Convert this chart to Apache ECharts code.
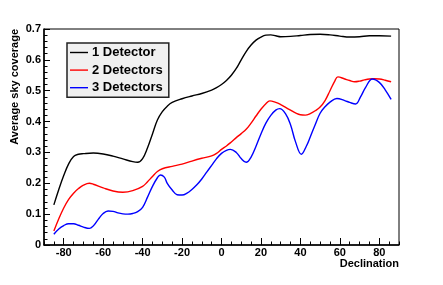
<!DOCTYPE html>
<html><head><meta charset="utf-8">
<script src="https://cdn.jsdelivr.net/npm/echarts@6/dist/echarts.min.js"></script>
<style>html,body{margin:0;padding:0;background:#fff;}#c{width:443px;height:285px;}</style>
</head><body><div id="c"></div>
<script>
var seriesNames = ['1 Detector', '2 Detectors', '3 Detectors'];
var xTickLabels = [-80, -60, -40, -20, 0, 20, 40, 60, 80];
var yTickLabels = [0, 0.1, 0.2, 0.3, 0.4, 0.5, 0.6, 0.7];

var det1 = [[-85,0.13],[-82.5,0.18],[-80,0.225],[-77.5,0.263],[-75,0.287],[-72.5,0.294],[-70,0.296],[-65,0.298],[-60,0.295],[-55,0.288],[-50,0.279],[-45,0.270],[-42.5,0.268],[-40,0.28],[-37.5,0.315],[-35,0.36],[-32.5,0.405],[-30,0.432],[-27.5,0.45],[-25,0.462],[-20,0.474],[-15,0.483],[-10,0.491],[-5,0.502],[-2.5,0.51],[0,0.52],[2.5,0.533],[5,0.55],[7.5,0.572],[10,0.600],[12.5,0.627],[15,0.648],[17.5,0.664],[20,0.674],[22.5,0.680],[25,0.681],[27.5,0.678],[30,0.675],[35,0.676],[40,0.679],[45,0.682],[50,0.683],[55,0.681],[60,0.677],[65,0.674],[70,0.675],[75,0.678],[80,0.678],[86,0.677]];
var det2 = [[-85,0.045],[-82.5,0.085],[-80,0.12],[-77.5,0.148],[-75,0.168],[-72.5,0.183],[-70,0.194],[-67,0.200],[-65,0.197],[-60,0.185],[-55,0.175],[-50,0.171],[-45,0.176],[-40,0.19],[-37.5,0.205],[-35,0.222],[-32.5,0.238],[-30,0.247],[-25,0.255],[-20,0.262],[-15,0.272],[-10,0.281],[-5,0.289],[-2.5,0.297],[0,0.31],[2.5,0.321],[5,0.334],[7.5,0.348],[10,0.361],[12.5,0.375],[15,0.395],[17.5,0.418],[20,0.44],[22.5,0.458],[24.5,0.467],[27.5,0.462],[30,0.455],[32.5,0.446],[35,0.437],[37.5,0.428],[40,0.422],[42.5,0.421],[45,0.426],[47.5,0.435],[50,0.447],[52.5,0.468],[55,0.500],[57.5,0.532],[59,0.545],[62.5,0.538],[65,0.533],[67.5,0.529],[70,0.531],[72.5,0.535],[75,0.538],[77.5,0.539],[80,0.538],[83,0.534],[86,0.529]];
var det3 = [[-85,0.035],[-82.5,0.052],[-80,0.063],[-77.5,0.069],[-75,0.069],[-72.5,0.064],[-70,0.058],[-67,0.054],[-65,0.062],[-62.5,0.083],[-60,0.102],[-57.5,0.110],[-55,0.109],[-52.5,0.104],[-50,0.101],[-47.5,0.100],[-45,0.102],[-42.5,0.108],[-40,0.122],[-37.5,0.155],[-35,0.19],[-32.5,0.218],[-31,0.227],[-29,0.22],[-27.5,0.2],[-25,0.178],[-22.5,0.163],[-20,0.162],[-17.5,0.168],[-15,0.18],[-12.5,0.195],[-10,0.214],[-7.5,0.236],[-5,0.258],[-2.5,0.28],[0,0.297],[2.5,0.307],[4.5,0.31],[7.5,0.3],[10,0.28],[12.5,0.268],[15,0.285],[17.5,0.32],[20,0.36],[22.5,0.395],[25,0.42],[27.5,0.437],[29.5,0.442],[32.5,0.425],[35,0.39],[37.5,0.335],[40.5,0.294],[43,0.32],[45,0.35],[47.5,0.39],[50,0.427],[52.5,0.448],[55,0.463],[58.5,0.475],[62.5,0.468],[65,0.462],[68,0.457],[70.5,0.48],[73,0.51],[76.5,0.538],[80,0.527],[83,0.503],[86,0.472]];
var colors = ['#000000', '#ff0000', '#0000ff'];

var FONT = 'Liberation Sans';
var chart = echarts.init(document.getElementById('c'), null, {renderer: 'canvas'});
var gridPos = {left: 44, right: 44, top: 29, bottom: 40};
var option = {
  animation: false,
  backgroundColor: '#ffffff',
  grid: [
    Object.assign({show: true, borderColor: '#000', borderWidth: 1, backgroundColor: '#fff', containLabel: false}, gridPos),
    Object.assign({show: false, containLabel: false}, gridPos)
  ],
  legend: {
    orient: 'vertical', left: 67, top: 43,
    itemWidth: 18, itemHeight: 14, itemGap: 4.6,
    padding: [3, 6, 3, 3],
    backgroundColor: '#f0f0f0', borderColor: '#222', borderWidth: 1.5,
    icon: 'path://M0 0H18V1.4H0Z',
    textStyle: {fontFamily: FONT, fontWeight: 'bold', fontSize: 13, color: '#000', padding: [0, 0, 0, -1]},
    data: seriesNames
  },
  xAxis: [
    {
      type: 'value', gridIndex: 0, min: -90, max: 90,
      name: 'Declination', nameLocation: 'end', nameGap: 0,
      nameTextStyle: {fontFamily: FONT, fontWeight: 'bold', fontSize: 11, color: '#000', align: 'right', verticalAlign: 'top', padding: [13, 0, 0, 0]},
      axisLine: {show: true, onZero: false, lineStyle: {color: '#000', width: 1.5}},
      axisTick: {show: true, inside: true, length: 7, customValues: xTickLabels, lineStyle: {color: '#000', width: 1}},
      axisLabel: {show: true, customValues: xTickLabels, margin: 2, fontFamily: FONT, fontWeight: 'bold', fontSize: 11, color: '#000'},
      splitLine: {show: false}
    },
    {
      type: 'value', gridIndex: 1, min: -90, max: 90, interval: 5,
      axisLine: {show: false},
      axisTick: {show: true, inside: true, length: 3.5, lineStyle: {color: '#000', width: 1}},
      axisLabel: {show: false},
      splitLine: {show: false}
    }
  ],
  yAxis: [
    {
      type: 'value', gridIndex: 0, min: 0, max: 0.7, interval: 0.1,
      name: 'Average sky coverage', nameLocation: 'end', nameRotate: 90, nameGap: 0,
      nameTextStyle: {fontFamily: FONT, fontWeight: 'bold', fontSize: 11, color: '#000', align: 'right', verticalAlign: 'bottom', padding: [0, 0, 24, 0]},
      axisLine: {show: true, onZero: false, lineStyle: {color: '#000', width: 1.5}},
      axisTick: {show: true, inside: true, length: 6, lineStyle: {color: '#000', width: 1}},
      minorTick: {show: true, splitNumber: 5, length: 3.5, lineStyle: {color: '#000', width: 1}},
      axisLabel: {margin: 3, fontFamily: FONT, fontWeight: 'bold', fontSize: 11, color: '#000',
        formatter: function (v) { return v === 0 ? '0' : v.toFixed(1); }},
      splitLine: {show: false}
    },
    {
      type: 'value', gridIndex: 1, min: 0, max: 0.7, show: false
    }
  ],
  series: [det1, det2, det3].map(function (d, i) {
    return {
      name: seriesNames[i], type: 'line', xAxisIndex: 0, yAxisIndex: 0,
      data: d, smooth: 0.4, symbol: 'none', showSymbol: false,
      lineStyle: {color: colors[i], width: 1.4}, itemStyle: {color: colors[i]}
    };
  })
};
chart.setOption(option);
</script>
</body></html>
